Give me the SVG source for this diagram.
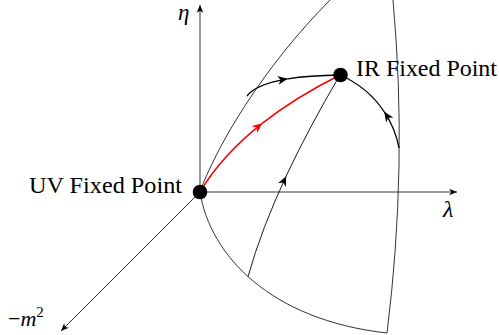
<svg xmlns="http://www.w3.org/2000/svg" width="499" height="335" viewBox="0 0 499 335">
<style>
.axis{fill:none;stroke:#000;stroke-width:0.8}
.bound{fill:none;stroke:#000;stroke-width:0.8}
.flow{fill:none;stroke:#000;stroke-width:1.3}
.thin{fill:none;stroke:#000;stroke-width:0.9}
.red{fill:none;stroke:#ff0000;stroke-width:1.5}
.dot{fill:#000}
</style>
<defs>
<marker id="ax" markerUnits="userSpaceOnUse" markerWidth="10" markerHeight="10" refX="0" refY="0" viewBox="-8 -4 9 8" orient="auto">
<path d="M0,0 L-7,-3 L-5.2,0 L-7,3 Z" fill="#000"/>
</marker>
<marker id="fa" markerUnits="userSpaceOnUse" markerWidth="12" markerHeight="12" refX="0" refY="0" viewBox="-10 -5 11 10" orient="auto">
<path d="M0,0 L-9,-4 L-6.5,0 L-9,4 Z" fill="#000"/>
</marker>
<marker id="fr" markerUnits="userSpaceOnUse" markerWidth="12" markerHeight="12" refX="0" refY="0" viewBox="-10 -5 11 10" orient="auto">
<path d="M0,0 L-9,-4 L-6.5,0 L-9,4 Z" fill="#ff0000"/>
</marker>
</defs>
<g id="axes" font-family="Liberation Serif, Times New Roman, serif" fill="#000">
<path class="axis" d="M200,192 L200,5" marker-end="url(#ax)"/>
<path class="axis" d="M200,192 L457,192" marker-end="url(#ax)"/>
<path class="axis" d="M200,192 L61,331" marker-end="url(#ax)"/>
<text x="178" y="20" font-size="23" font-style="italic">η</text>
<text x="443" y="217" font-size="24" font-style="italic">λ</text>
<text x="8" y="326" font-size="22">−<tspan font-style="italic">m</tspan><tspan dy="-9" font-size="15">2</tspan></text>
</g>
<g id="boundary">
<path class="bound" d="M200,192 C215,150 260,70 332,-2"/>
<path class="bound" d="M200,192 C210,255 270,320 387,333"/>
<path class="bound" d="M393,0 Q408,165 387,333"/>
</g>
<g id="connectors">
<path class="flow" d="M247,96 Q256,84 287.68,78.84" marker-end="url(#fa)"/>
<path class="flow" d="M287.68,78.84 Q308.8,75.4 340,75"/>
<path class="flow" d="M399,148 C396.6,134.8 391.48,122.56 384.28,111.79" marker-end="url(#fa)"/>
<path class="flow" d="M384.28,111.79 C373.48,95.64 358,82.8 340,75"/>
<path class="thin" d="M248,276.6 Q261.56,228.68 286.13,176.2" marker-end="url(#fa)"/>
<path class="thin" d="M286.13,176.2 Q308.8,127.8 340,75"/>
<path class="red" d="M200,192 Q222,155.15 262.15,123.44" marker-end="url(#fr)"/>
<path class="red" d="M262.15,123.44 Q295,97.5 340,75"/>
</g>
<g id="uv" font-family="Liberation Serif, Times New Roman, serif">
<circle class="dot" cx="200" cy="192" r="7.3"/>
<text x="29" y="193" font-size="23" fill="#000" textLength="153" lengthAdjust="spacingAndGlyphs">UV Fixed Point</text>
</g>
<g id="ir" font-family="Liberation Serif, Times New Roman, serif">
<circle class="dot" cx="340.5" cy="75" r="7.3"/>
<text x="356" y="76" font-size="23" fill="#000" textLength="141" lengthAdjust="spacingAndGlyphs">IR Fixed Point</text>
</g>
</svg>
